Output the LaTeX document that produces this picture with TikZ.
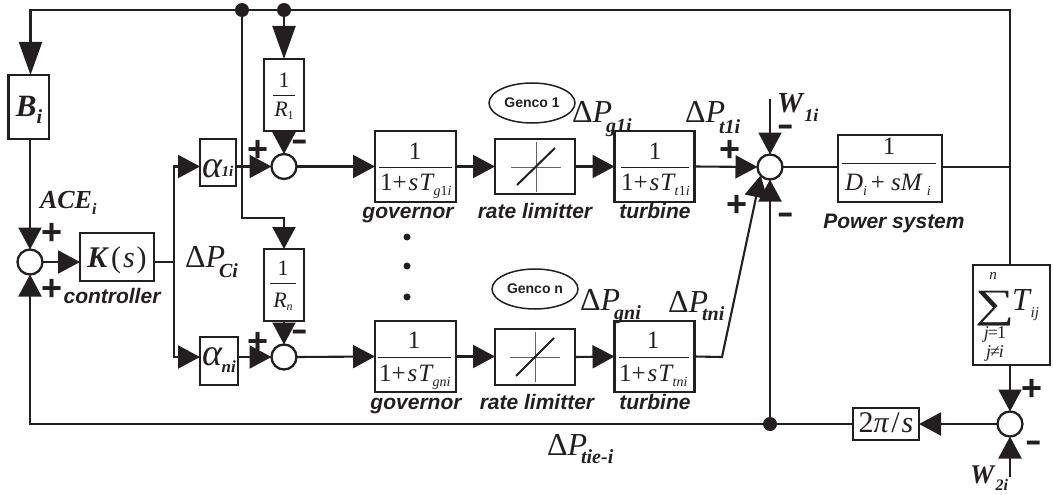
\documentclass[tikz,border=0pt]{standalone}
\usepackage{fontspec}
\setmainfont{Liberation Serif}
\newfontfamily\arl{Liberation Sans}
\usetikzlibrary{arrows.meta,shapes.geometric}
\definecolor{ink}{HTML}{231F20}
\newcommand\fs[1]{\fontsize{#1}{#1}\selectfont}
% Delta P with bold-italic subscript: #1 drop, #2 subscript
\newcommand\dP[2]{{\fs{32}Δ\textit{P}}\kern-6pt\raisebox{-#1pt}{\fs{20}\textbf{\textit{#2}}}}
\newcommand\bsub[2]{\raisebox{-#1pt}{\fs{16}\textbf{\textit{#2}}}}
\newcommand\rsub[1]{\raisebox{-5pt}{\fs{14}#1}}
\newcommand\mn{\scalebox{1}[1.5]{–}}
\tikzset{
  x=1pt,y=-1pt,
  every node/.style={inner sep=0pt,outer sep=0pt,text=ink},
  wire/.style={draw=ink,line width=2.1pt,line join=miter},
  arr/.style={wire,-{Triangle[length=22pt,width=23pt]}},
  bigarr/.style={wire,-{Triangle[length=33pt,width=23pt]}},
  blk/.style={draw=ink,line width=2.3pt,fill=white,rectangle,minimum width=#1},
  blk/.default=40pt,
  summer/.style={draw=ink,line width=2.3pt,fill=white,circle,minimum size=25pt},
  junction/.style={fill=ink,circle,minimum size=14pt},
  vdot/.style={fill=ink,circle,minimum size=7pt},
  bar/.style={draw=ink,line width=0.9pt},
  thin cross/.style={draw=ink!70,line width=0.8pt},
  diag/.style={draw=ink,line width=2pt},
  tb/.style={anchor=base},
  tw/.style={anchor=base west},
  capt/.style={anchor=base,font=\arl\bfseries\itshape\fs{21}},
  sgn/.style={anchor=center,font=\arl\bfseries\fs{36}},
  mns/.style={anchor=center,font=\arl\bfseries\fs{26}},
  genco/.style={draw=ink,line width=1.5pt,ellipse,minimum width=86pt,minimum height=40pt,font=\arl\bfseries\fs{14}},
}
\begin{document}
\begin{tikzpicture}
\useasboundingbox (0,0) rectangle (1053,495);
% blocks
\node[blk=40.5pt,minimum height=64pt] (bi) at (28.8,107) {};
\node[blk=74pt,minimum height=48pt] (k) at (117,257) {};
\node[blk=36pt,minimum height=47pt] (a1) at (218,162.5) {};
\node[blk=38pt,minimum height=48pt] (an) at (219,361) {};
\node[blk=40pt,minimum height=72pt] (r1) at (284,95) {};
\node[blk=40pt,minimum height=72pt] (rn) at (284,285) {};
\node[blk=81pt,minimum height=71pt] (g1) at (415.5,166.5) {};
\node[blk=80pt,minimum height=55pt] (l1) at (535,166.5) {};
\node[blk=80pt,minimum height=71pt] (t1) at (654.5,166.5) {};
\node[blk=81pt,minimum height=71pt] (gn) at (415.5,356.5) {};
\node[blk=80pt,minimum height=56pt] (ln) at (535,357) {};
\node[blk=80pt,minimum height=71pt] (tn) at (654.5,356.5) {};
\node[blk=104pt,minimum height=67pt] (ps) at (890,168.5) {};
\node[blk=77pt,minimum height=100pt] (st) at (1011.5,315) {};
\node[blk=66pt,minimum height=32pt] (tp) at (886,424) {};
% summers
\node[summer] (s0) at (30,262) {};
\node[summer] (s1) at (284,166.5) {};
\node[summer] (sn) at (284,357) {};
\node[summer] (sm) at (770,167) {};
\node[summer] (s2) at (1010,424) {};
% junctions and free ends
\node[junction] (ja) at (242,10) {};
\node[junction] (jb) at (284,10) {};
\node[junction] (jc) at (770,424) {};
\coordinate (tl) at (30.5,10);
\coordinate (tr) at (1010,10);
\coordinate (pj) at (1010,167);
\coordinate (bl) at (30,424);
\coordinate (kj) at (174,262);
\coordinate (al) at (174,166.5);
\coordinate (anl) at (174,357);
\coordinate (rb) at (242,218);
\coordinate (rt) at (284,218);
\coordinate (ben) at (722,357);
\coordinate (w1) at (770,99);
\coordinate (w2) at (1010,477);
% connectors
\draw[bigarr] (pj) -- (tr) -- (tl) -- (tl |- bi.north);
\draw[wire] (pj) -- (pj |- st.north);
\draw[arr] (bi.south -| s0.north) -- (s0.north);
\draw[arr] (s0.east) -- (s0.east -| k.west);
\draw[wire] (k.east |- kj) -- (kj);
\draw[arr] (kj) -- (al) -- (a1.west |- al);
\draw[arr] (kj) -- (anl) -- (an.west |- anl);
\draw[arr] (a1.east |- s1) -- (s1.west);
\draw[arr] (an.east |- sn) -- (sn.west);
\draw[bigarr] (jb) -- (r1.north);
\draw[arr] (r1.south) -- (s1.north);
\draw[arr] (ja) -- (rb) -- (rt) -- (rn.north);
\draw[arr] (rn.south) -- (sn.north);
\draw[arr] (s1.east) -- (g1.west);
\draw[arr] (g1.east) -- (l1.west);
\draw[arr] (l1.east) -- (t1.west);
\draw[arr] (t1.east) -- (sm.west);
\draw[arr] (sn.east) -- (gn.west);
\draw[arr] (gn.east) -- (gn.east -| ln.west);
\draw[arr] (ln.east) -- (tn.west);
\draw[arr] (tn.east) -- (ben) -- (sm.222);
\draw[arr] (w1) -- (sm.north);
\draw[arr] (jc) -- (sm.south);
\draw[wire] (sm.east) -- (ps.west |- sm);
\draw[wire] (ps.east |- pj) -- (pj);
\draw[arr] (st.south -| s2) -- (s2.north);
\draw[arr] (w2) -- (s2.south);
\draw[arr] (s2.west) -- (tp.east);
\draw[wire] (tp.west) -- (jc);
\draw[arr] (jc) -- (bl) -- (s0.south);
% block contents
\node[tb] (tbi) at (29,117) {\fs{31}\textbf{\textit{B}}\raisebox{-7pt}{\fs{20}\textbf{\textit{i}}}};
\node[tb] (tk) at (117,267) {\fs{30}\textbf{\textit{K}}\kern2pt(\kern2pt\textit{s}\kern2pt)};
\node[tw] (ta1) at (202,177) {\fs{38}\textit{α}\raisebox{1pt}{\kern-1pt\fs{15}\textbf{\textit{1i}}}};
\node[tw] (tan) at (202,365) {\fs{38}\textit{α}\raisebox{-7pt}{\kern-1pt\fs{17}\textbf{\textit{ni}}}};
% 1/R
\node[tb] (nr1) at (284,88) {\fs{22}1};
\draw[bar] (273,95) -- (295,95);
\node[tb] (dr1) at (284,117) {\fs{22}\textit{R}\raisebox{-3pt}{\fs{12}1}};
\node[tb] (nrn) at (283,275) {\fs{22}1};
\draw[bar] (270,283) -- (296,283);
\node[tb] (drn) at (283,307) {\fs{22}\textit{R}\raisebox{-3pt}{\fs{12}\textit{n}}};
% fractions
\node[tb] (ng1) at (415,159) {\fs{25}1};
\draw[bar] (379,167) -- (452,167);
\node[tw] (dg1) at (380,190) {\fs{25}1+\kern2pt\textit{s}\kern1pt\textit{T}\kern-1pt\rsub{\textit{g}1\textit{i}}};
\node[tb] (nt1) at (655,159) {\fs{25}1};
\draw[bar] (621,167) -- (689,167);
\node[tw] (dt1) at (621,190) {\fs{25}1+\kern2pt\textit{s}\kern1pt\textit{T}\kern-1pt\rsub{\textit{t}1\textit{i}}};
\node[tb] (ngn) at (414,348) {\fs{25}1};
\draw[bar] (378,357) -- (451,357);
\node[tw] (dgn) at (379,381) {\fs{25}1+\kern2pt\textit{s}\kern1pt\textit{T}\kern-1pt\rsub{\textit{gni}}};
\node[tb] (ntn) at (653,348) {\fs{25}1};
\draw[bar] (619,357) -- (689,357);
\node[tw] (dtn) at (619,381) {\fs{25}1+\kern2pt\textit{s}\kern1pt\textit{T}\kern-1pt\rsub{\textit{tni}}};
\node[tb] (nps) at (889,154) {\fs{25}1};
\draw[bar] (842,163) -- (936,163);
\node[tw] (dps) at (845,190) {\fs{25}\textit{D}\rsub{\textit{i}}\kern4pt+\kern6pt\textit{sM}\kern4pt\rsub{\textit{i}}};
% rate limiters
\draw[thin cross] (511,167) -- (561,167);
\draw[thin cross] (536,142) -- (536,192);
\draw[diag] (517,185) -- (555,148);
\draw[thin cross] (510,357) -- (560,357);
\draw[thin cross] (535,332) -- (535,382);
\draw[diag] (516,376) -- (554,338);
% sum block
\node[tb] (sn1) at (993,279) {\fs{15}\textit{n}};
\node[tb] (ssig) at (995,317) {\scalebox{1}[0.73]{\fs{55}∑}};
\node[tw] (stt) at (1012,310) {\fs{32}\textit{T}\raisebox{-7pt}{\kern-1pt\fs{15}\textit{ij}}};
\node[tb] (sj1) at (995,338) {\fs{18}\textit{j}\kern-1pt=\kern-1pt1};
\node[tb] (sj2) at (995,357) {\fs{18}\textit{j}\kern-1pt≠\kern-1pt\textit{i}};
\node[tb] (ttp) at (886,432) {\fs{30}2\textit{π}\kern2pt/\kern2pt\textit{s}};
% captions
\node[capt] (c0) at (112,303) {controller};
\node[capt] (c1) at (408,218) {governor};
\node[capt] (c2) at (535,218) {rate limitter};
\node[capt] (c3) at (655,218) {turbine};
\node[capt] (c4) at (416,409) {governor};
\node[capt] (c5) at (537,409) {rate limitter};
\node[capt] (c6) at (655,409) {turbine};
\node[capt] (c7) at (894,228) {Power system};
\node[genco] (g) at (532,103) {Genco 1};
\node[genco] (gg) at (535,289) {Genco n};
% vertical dots
\node[vdot] (d1) at (407,237) {};
\node[vdot] (d2) at (407,266) {};
\node[vdot] (d3) at (407,297) {};
% signal labels
\node[tw] (ace) at (40,208) {\fs{26}\textbf{\textit{ACE}}\bsub{6}{i}};
\node[tw] (pc) at (185,267) {\dP{10}{Ci}};
\node[tw] (pg1) at (572,122) {\dP{10}{g1i}};
\node[tw] (pt1) at (685,122) {\dP{11}{t1i}};
\node[tw] (pgn) at (580,310) {\dP{9}{gni}};
\node[tw] (ptn) at (668,312) {\dP{8}{tni}};
\node[tw] (pti) at (547,455) {\dP{8}{tie-i}};
\node[tw] (w1l) at (777,113) {\fs{29}\textbf{\textit{W}}\raisebox{-9pt}{\fs{18}\textbf{\textit{1i}}}};
\node[tw] (w2l) at (970,483) {\fs{27}\textbf{\textit{W}}\raisebox{-7pt}{\fs{16}\textbf{\textit{2i}}}};
% signs
\node[sgn] (p0) at (52,234) {+};
\node[sgn] (p1) at (52,290) {+};
\node[sgn] (p2) at (258,151) {+};
\node[mns] (m2) at (300,146) {\mn};
\node[sgn] (p3) at (258,343) {+};
\node[mns] (m3) at (300,336) {\mn};
\node[sgn] (p4) at (730,151) {+};
\node[mns] (m4) at (786,131) {\mn};
\node[sgn] (p5) at (737,206) {+};
\node[mns] (m5) at (786,219) {\mn};
\node[sgn] (p6) at (1032,390) {+};
\node[mns] (m6) at (1034,447) {\mn};
\end{tikzpicture}
\end{document}
